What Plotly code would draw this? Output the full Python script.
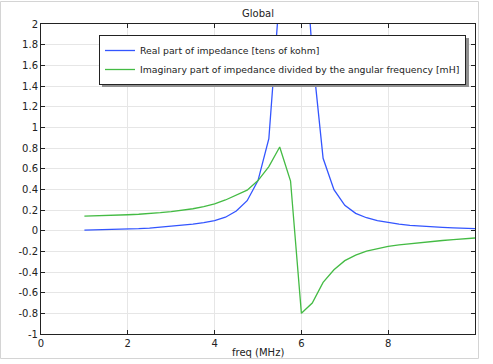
import plotly.graph_objects as go

freq_mhz = [1.00, 1.25, 1.50, 1.75, 2.00, 2.25, 2.50, 2.75, 3.00, 3.25, 3.50, 3.75,
            4.00, 4.25, 4.50, 4.75, 5.00, 5.25, 5.50, 5.75, 6.00, 6.25, 6.50, 6.75,
            7.00, 7.25, 7.50, 7.75, 8.00, 8.25, 8.50, 8.75, 9.00, 9.25, 9.50, 9.75, 10.00]

real_part = [0.005, 0.007, 0.009, 0.012, 0.015, 0.019, 0.025, 0.033, 0.042, 0.052, 0.063, 0.078,
             0.097, 0.130, 0.190, 0.290, 0.485, 0.890, 2.300, 5.500, 3.200, 1.720, 0.700, 0.397,
             0.245, 0.168, 0.125, 0.097, 0.078, 0.063, 0.052, 0.043, 0.037, 0.032, 0.027, 0.023, 0.019]

imag_over_omega = [0.140, 0.142, 0.145, 0.149, 0.154, 0.159, 0.165, 0.174, 0.185, 0.197, 0.212, 0.233,
                   0.260, 0.297, 0.348, 0.392, 0.485, 0.620, 0.810, 0.480, -0.800, -0.700, -0.500, -0.378,
                   -0.290, -0.236, -0.198, -0.172, -0.152, -0.138, -0.126, -0.114, -0.104, -0.095, -0.087, -0.079, -0.071]

series_names = ["Real part of impedance [tens of kohm]",
                "Imaginary part of impedance divided by the angular frequency [mH]"]

x_ticks = [0, 2, 4, 6, 8]
y_ticks = [-1, -0.8, -0.6, -0.4, -0.2, 0, 0.2, 0.4, 0.6, 0.8, 1, 1.2, 1.4, 1.6, 1.8, 2]
y_tick_labels = ["-1", "-0.8", "-0.6", "-0.4", "-0.2", "0", "0.2", "0.4", "0.6", "0.8",
                 "1", "1.2", "1.4", "1.6", "1.8", "2"]

FONT = "DejaVu Sans"

fig = go.Figure()
fig.add_trace(go.Scatter(x=freq_mhz, y=real_part, mode="lines", name=series_names[0],
                         line=dict(color="#3355ff", width=1.3)))
fig.add_trace(go.Scatter(x=freq_mhz, y=imag_over_omega, mode="lines", name=series_names[1],
                         line=dict(color="#44bb44", width=1.3)))

W, H = 493, 364
L, R, T, B = 41, 18, 24, 30
pw, ph = W - L - R, H - T - B

def px_x(p):
    return (p - L) / pw

def px_y(p):
    return (H - B - p) / ph

fig.update_layout(
    width=W, height=H,
    margin=dict(l=L, r=R, t=T, b=B, autoexpand=False),
    paper_bgcolor="white", plot_bgcolor="white",
    font=dict(family=FONT, size=10, color="#222222"),
    title=dict(text="Global", x=px_x(258), xref="paper", xanchor="center",
               y=1 - 13 / H, yref="container", yanchor="middle",
               font=dict(family=FONT, size=10, color="#222222")),
    showlegend=True,
    legend=dict(x=px_x(99), y=px_y(35), xanchor="left", yanchor="top",
                bgcolor="white", bordercolor="#222222", borderwidth=1,
                font=dict(family=FONT, size=9.3, color="#222222"),
                tracegroupgap=0, itemwidth=30),
    xaxis=dict(range=[0, 10], tickvals=x_ticks, ticktext=[str(v) for v in x_ticks],
               showgrid=True, gridcolor="#e6e6e6", gridwidth=1,
               showline=True, linecolor="#222222", linewidth=1, mirror="ticks",
               ticks="inside", ticklen=4, tickcolor="#222222", zeroline=False,
               tickfont=dict(family=FONT, size=10, color="#222222")),
    yaxis=dict(range=[-1, 2], tickvals=y_ticks, ticktext=y_tick_labels,
               showgrid=True, gridcolor="#e6e6e6", gridwidth=1,
               showline=True, linecolor="#222222", linewidth=1, mirror="ticks",
               ticks="inside", ticklen=4, tickcolor="#222222", zeroline=False,
               tickfont=dict(family=FONT, size=10, color="#222222")),
)

fig.add_annotation(text="freq (MHz)", x=px_x(258), y=px_y(352), xref="paper", yref="paper",
                   showarrow=False, xanchor="center", yanchor="middle",
                   font=dict(family=FONT, size=10, color="#222222"))

# outer panel frame
fig.add_shape(type="rect", xref="paper", yref="paper",
              x0=px_x(0.5), x1=px_x(478.5), y0=px_y(358.5), y1=px_y(1.5),
              line=dict(color="#d4d4d4", width=1), fillcolor="rgba(0,0,0,0)", layer="below")
# legend drop shadow
fig.add_shape(type="rect", xref="paper", yref="paper",
              x0=px_x(102), x1=px_x(469), y0=px_y(87), y1=px_y(38),
              line=dict(width=0), fillcolor="#909090", layer="above")

fig.write_html("out.html", config={"displayModeBar": False},
               post_script="document.body.style.margin='0';document.body.style.padding='0';")
